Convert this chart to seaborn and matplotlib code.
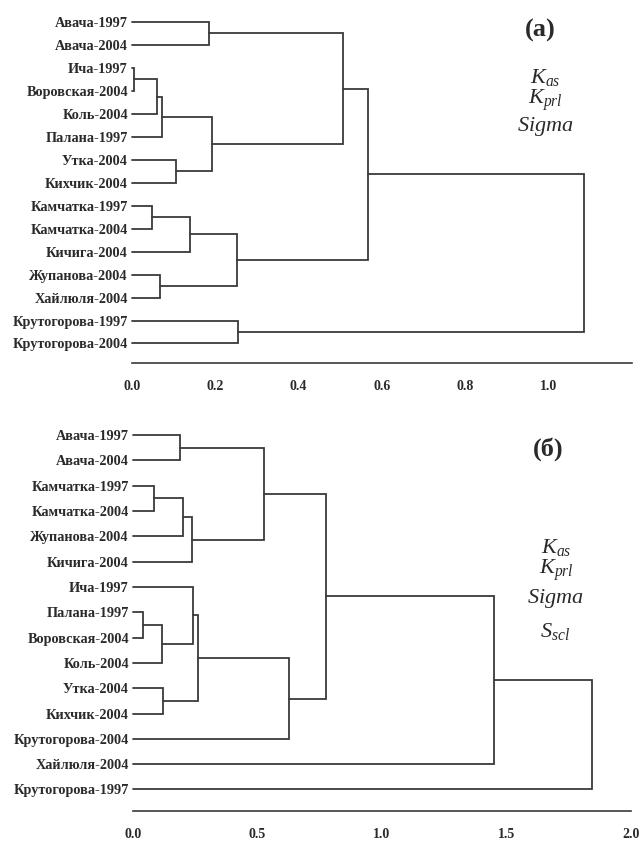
"""Two dendrograms of river samples (panels a and б)."""

import matplotlib

matplotlib.use("Agg")
import matplotlib.pyplot as plt
import seaborn as sns

# --- panel (a): K_as, K_prl, Sigma ---
leaves_a = [
    "Авача-1997", "Авача-2004", "Ича-1997", "Воровская-2004", "Коль-2004",
    "Палана-1997", "Утка-2004", "Кихчик-2004", "Камчатка-1997", "Камчатка-2004",
    "Кичига-2004", "Жупанова-2004", "Хайлюля-2004", "Крутогорова-1997",
    "Крутогорова-2004",
]
# (left node, right node, linkage distance); nodes >= len(leaves) are clusters
merges_a = [
    (0, 1, 0.185),
    (2, 3, 0.005),
    (16, 4, 0.060),
    (17, 5, 0.072),
    (6, 7, 0.105),
    (18, 19, 0.192),
    (15, 20, 0.506),
    (8, 9, 0.048),
    (22, 10, 0.139),
    (11, 12, 0.067),
    (23, 24, 0.252),
    (21, 25, 0.566),
    (13, 14, 0.255),
    (26, 27, 1.084),
]
ticks_a = [0.0, 0.2, 0.4, 0.6, 0.8, 1.0]

# --- panel (б): K_as, K_prl, Sigma, S_scl ---
leaves_b = [
    "Авача-1997", "Авача-2004", "Камчатка-1997", "Камчатка-2004", "Жупанова-2004",
    "Кичига-2004", "Ича-1997", "Палана-1997", "Воровская-2004", "Коль-2004",
    "Утка-2004", "Кихчик-2004", "Крутогорова-2004", "Хайлюля-2004",
    "Крутогорова-1997",
]
merges_b = [
    (0, 1, 0.188),
    (2, 3, 0.085),
    (16, 4, 0.200),
    (17, 5, 0.235),
    (15, 18, 0.526),
    (7, 8, 0.040),
    (20, 9, 0.115),
    (6, 21, 0.240),
    (10, 11, 0.120),
    (22, 23, 0.260),
    (24, 12, 0.626),
    (19, 25, 0.777),
    (26, 13, 1.451),
    (27, 14, 1.844),
]
ticks_b = [0.0, 0.5, 1.0, 1.5, 2.0]

LINE = "#3a3a3a"
TEXT = "#2a2a2a"
SERIF = "Liberation Serif"


def draw_dendrogram(ax, leaves, merges, ticks, xmax):
    n = len(leaves)
    pos = {i: (0.0, float(i)) for i in range(n)}  # node -> (height, y)
    for k, (a, b, h) in enumerate(merges):
        xa, ya = pos[a]
        xb, yb = pos[b]
        ax.plot([xa, h, h, xb], [ya, ya, yb, yb], color=LINE, lw=1.3,
                solid_joinstyle="miter", clip_on=False)
        pos[n + k] = (h, (ya + yb) / 2)

    ax.set_xlim(0, xmax)
    ax.set_ylim(n - 1 + 0.85, -0.5)
    ax.set_yticks(range(n))
    ax.set_yticklabels(leaves, fontfamily=SERIF, fontweight="bold",
                       fontsize=10.3, color=TEXT)
    ax.tick_params(axis="y", length=0, pad=3)
    ax.set_xticks(ticks)
    ax.set_xticklabels([f"{t:.1f}" for t in ticks], fontfamily=SERIF,
                       fontweight="bold", fontsize=10, color=TEXT)
    ax.tick_params(axis="x", direction="in", length=3, width=1, pad=12,
                   color=LINE)
    sns.despine(ax=ax, left=True)
    ax.spines["bottom"].set_color(LINE)
    ax.spines["bottom"].set_linewidth(1.2)
    ax.set_facecolor("white")


sns.set_style("white")
plt.rcParams["mathtext.fontset"] = "custom"
plt.rcParams["mathtext.it"] = "Liberation Serif:italic"
plt.rcParams["mathtext.rm"] = "Liberation Serif"

W, H = 641, 843
fig = plt.figure(figsize=(W / 100, H / 100), dpi=100)
fig.patch.set_facecolor("white")

ax_a = fig.add_axes([132 / W, 1 - 363 / H, 500 / W, 352.5 / H])
draw_dendrogram(ax_a, leaves_a, merges_a, ticks_a, 1.2)

ax_b = fig.add_axes([133 / W, 1 - 811 / H, 498 / W, 388.5 / H])
draw_dendrogram(ax_b, leaves_b, merges_b, ticks_b, 2.0)


def ftext(x, y, s, size, **kw):
    fig.text(x / W, 1 - y / H, s, ha="center", va="center", fontsize=size,
             color=TEXT, fontfamily=SERIF, **kw)


ftext(540, 30, "(a)", 19, fontweight="bold")
ftext(545, 78, r"$K_{as}$", 16)
ftext(545, 100, r"$K_{prl}$", 16)
ftext(545, 127, r"$Sigma$", 16)

ftext(548, 449, "(б)", 19, fontweight="bold")
ftext(556, 547, r"$K_{as}$", 16)
ftext(556, 570, r"$K_{prl}$", 16)
ftext(555, 598, r"$Sigma$", 16)
ftext(555, 632, r"$S_{scl}$", 16)

fig.savefig("out.png", dpi=100)
plt.close(fig)
